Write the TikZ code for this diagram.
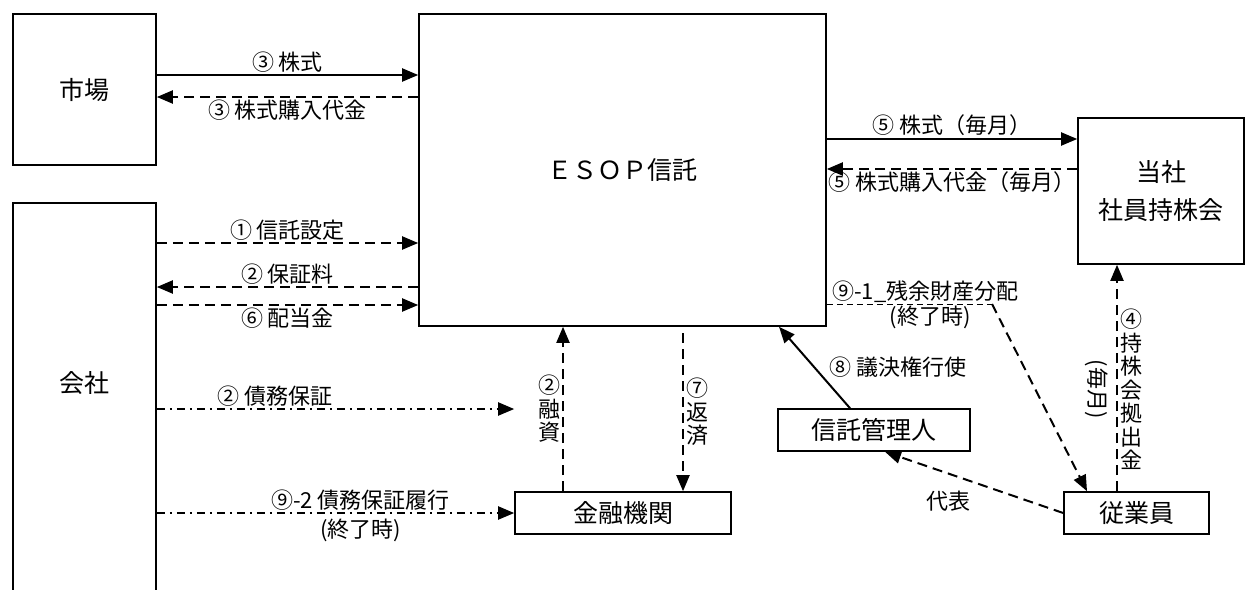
\documentclass[tikz,border=0pt]{standalone}
\usepackage{fontspec}
\setmainfont{Noto Sans CJK JP}
\usetikzlibrary{arrows.meta}

\begin{document}
\begin{tikzpicture}[x=1pt, y=-1pt,
    box/.style={draw, line width=1.6pt, inner sep=0pt, align=center, font=\fontsize{25}{38}\selectfont},
    flow/.style={line width=2pt, -{Triangle[length=16pt,width=13pt]}},
    cash/.style={flow, dash pattern=on 10pt off 6pt},
    debt/.style={flow, dash pattern=on 8pt off 5pt on 2pt off 5pt},
    tag/.style={font=\fontsize{22}{23.5}\selectfont, inner sep=2pt, align=center}]
    \useasboundingbox (0,0) rectangle (1246,589);
    \clip (0,0) rectangle (1246,589);

    \node[box, minimum width=143pt, minimum height=151pt] (market) at (84.5,89.5) {市場};
    \node[box, minimum width=143pt, minimum height=420pt, anchor=north] (company) at (84.5,202) {};
    \node[font=\fontsize{25}{28}\selectfont] (companytext) at (84.5,383) {会社};
    \node[box, minimum width=407pt, minimum height=312pt] (esop) at (622.5,170) {ＥＳＯＰ信託};
    \node[box, minimum width=166pt, minimum height=146pt] (holding) at (1161,191) {当社\\社員持株会};
    \node[box, minimum width=216pt, minimum height=42pt] (bank) at (623,513) {金融機関};
    \node[box, minimum width=192pt, minimum height=42pt] (trustee) at (874,430) {信託管理人};
    \node[box, minimum width=145pt, minimum height=42pt] (employee) at (1136.5,513) {従業員};
    \coordinate (surplus) at (992,304);
    \coordinate (repay) at (683,333);

    \draw[flow] (market.east |- 0,75) -- node[tag, above] {③ 株式} (esop.west |- 0,75);
    \draw[cash] (esop.west |- 0,97) -- node[tag, below] {③ 株式購入代金} (market.east |- 0,97);
    \draw[cash] (company.east |- 0,243) -- node[tag, above] {① 信託設定} (esop.west |- 0,243);
    \draw[cash] (esop.west |- 0,287) -- node[tag, above] {② 保証料} (company.east |- 0,287);
    \draw[cash] (company.east |- 0,305) -- node[tag, below] {⑥ 配当金} (esop.west |- 0,305);
    \draw[debt] (company.east |- 0,409) -- node[tag, above, pos=0.33] {② 債務保証} (bank.west |- 0,409);
    \draw[debt] (company.east |- bank.west) -- node[tag, above, pos=0.57] {⑨-2 債務保証履行}
        node[tag, below, pos=0.57, inner sep=5pt] {(終了時)} (bank.west);

    \draw[cash] (bank.north -| 563,0) -- node[tag, left, midway] {②\\融\\資} (esop.south -| 563,0);
    \draw[cash] (repay) -- node[tag, right, midway] {⑦\\返\\済} (bank.north -| repay);
    \draw[flow] (trustee.north -| 850,0) -- node[tag, right=12pt, midway] {⑧ 議決権行使} (esop.south -| 779,0);

    \draw[flow] (esop.east |- 0,139) -- node[tag, above] {⑤ 株式（毎月）} (holding.west |- 0,139);
    \draw[cash] (holding.west |- 0,169) -- node[tag, below] {⑤ 株式購入代金（毎月）} (esop.east |- 0,169);

    \draw[line width=1pt, dash pattern=on 6pt off 4pt] (esop.east |- surplus)
        -- node[tag, above, xshift=16pt, inner sep=1pt] {⑨-1\_残余財産分配}
        node[tag, below, xshift=21pt, inner sep=1pt] {(終了時)} (surplus);
    \draw[cash] (surplus) -- (employee.north -| 1087,0);
    \draw[cash] (employee.north -| 1117,0) -- node[tag, right, pos=0.45] {④\\持\\株\\会\\拠\\出\\金}
        node[tag, rotate=-90, anchor=north, pos=0.45, inner sep=8pt] {(毎月)} (holding.south -| 1117,0);
    \draw[cash] (employee.west) -- node[tag, midway, below=6pt, xshift=-26pt] {代表} (trustee.south -| 885,0);
\end{tikzpicture}
\end{document}
